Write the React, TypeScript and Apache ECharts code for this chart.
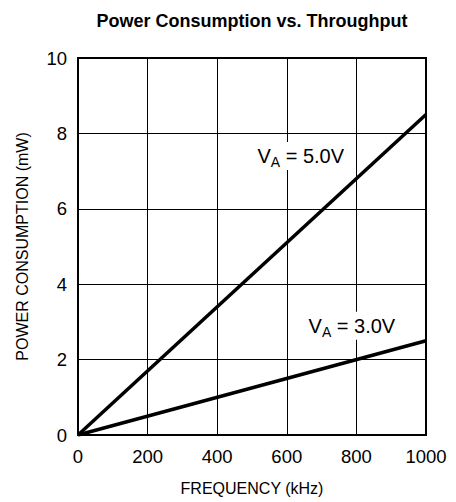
import React, { useEffect, useRef } from "react";
import * as echarts from "echarts";

const freq = [0, 1000];
const power5V = [0, 8.5];
const power3V = [0, 2.5];
const label5VAt = [640, 7.4];
const label3VAt = [787, 2.9];
const xTicks = [0, 200, 400, 600, 800, 1000];

const FONT = "Liberation Sans, Arial, sans-serif";

function makeLabel(v: string) {
  return {
    show: true,
    position: "inside",
    formatter: `{a|V}{s|A}{a| = ${v}}`,
    backgroundColor: "#fff",
    padding: [2, 3, 2, 3],
    rich: {
      a: { fontSize: 20, fontFamily: FONT, color: "#000", lineHeight: 24 },
      s: { fontSize: 14, fontFamily: FONT, color: "#000", padding: [12, 0, 0, 0], lineHeight: 24 },
    },
  };
}

export default function App() {
  const ref = useRef<HTMLDivElement>(null);
  useEffect(() => {
    if (!ref.current) return;
    const chart = echarts.init(ref.current, undefined, { renderer: "svg" });
    chart.setOption({
      animation: false,
      backgroundColor: "#fff",
      title: {
        text: "Power Consumption vs. Throughput",
        left: 247,
        textAlign: "center",
        top: 7,
        textStyle: { fontFamily: FONT, fontSize: 18, fontWeight: "bold", color: "#000" },
      },
      grid: {
        left: 78,
        top: 58,
        right: 30,
        bottom: 67,
        show: true,
        borderColor: "#000",
        borderWidth: 2,
        backgroundColor: "transparent",
      },
      xAxis: {
        type: "value",
        min: 0,
        max: 1000,
        interval: 200,
        name: "FREQUENCY (kHz)",
        nameLocation: "middle",
        nameGap: 45,
        nameTextStyle: { fontFamily: FONT, fontSize: 16, color: "#000" },
        axisLine: { show: true, lineStyle: { color: "#000", width: 2 } },
        axisTick: { show: false },
        axisLabel: {
          fontFamily: FONT,
          fontSize: 18.5,
          color: "#000",
          margin: 12,
          formatter: (v: number) => (xTicks.includes(v) ? String(v) : ""),
        },
        splitLine: { show: true, lineStyle: { color: "#000", width: 1 } },
      },
      yAxis: {
        type: "value",
        min: 0,
        max: 10,
        interval: 2,
        name: "POWER CONSUMPTION (mW)",
        nameLocation: "middle",
        nameGap: 48,
        nameRotate: 90,
        nameTextStyle: { fontFamily: FONT, fontSize: 16, color: "#000" },
        axisLine: { show: true, lineStyle: { color: "#000", width: 2 } },
        axisTick: { show: false },
        axisLabel: { fontFamily: FONT, fontSize: 18.5, color: "#000", margin: 11 },
        splitLine: { show: true, lineStyle: { color: "#000", width: 1 } },
      },
      series: [
        {
          type: "line",
          data: freq.map((f, i) => [f, power5V[i]]),
          symbol: "none",
          lineStyle: { color: "#000", width: 3.5 },
          markPoint: {
            symbol: "rect",
            symbolSize: 0,
            data: [{ coord: label5VAt, label: makeLabel("5.0V") }],
          },
        },
        {
          type: "line",
          data: freq.map((f, i) => [f, power3V[i]]),
          symbol: "none",
          lineStyle: { color: "#000", width: 3.5 },
          markPoint: {
            symbol: "rect",
            symbolSize: 0,
            data: [{ coord: label3VAt, label: makeLabel("3.0V") }],
          },
        },
      ],
    });
    return () => chart.dispose();
  }, []);
  return <div ref={ref} style={{ width: 456, height: 502, position: "absolute", left: 0, top: 0 }} />;
}
